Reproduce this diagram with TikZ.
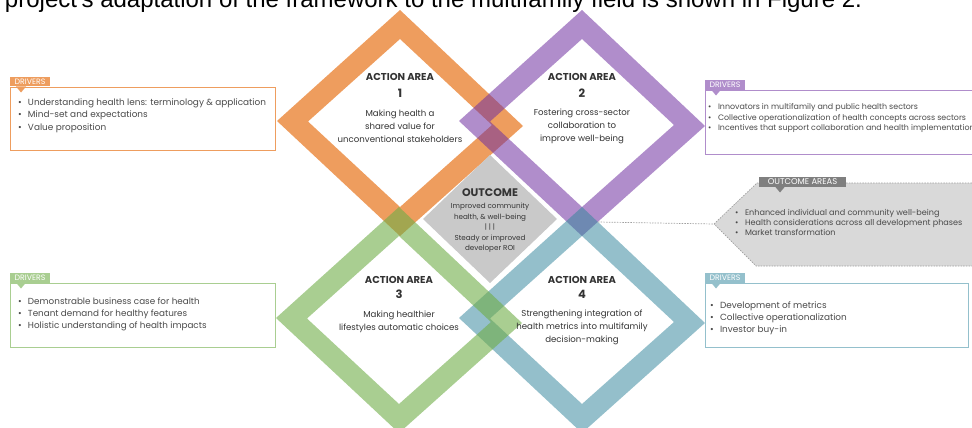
\documentclass[tikz,border=0pt]{standalone}
\usepackage{fontspec}
\setmainfont{Poppins}
\newfontfamily\captionfont{Liberation Sans}
\definecolor{hlorange}{HTML}{EE9D5E}
\definecolor{hlpurple}{HTML}{7030A0}
\definecolor{hlblue}{HTML}{31859C}
\definecolor{hlgreen}{HTML}{70AD47}
% the same colours as they show on white
\colorlet{lpurple}{hlpurple!55!white}
\colorlet{lblue}{hlblue!52!white}
\colorlet{lgreen}{hlgreen!60!white}
\definecolor{outgray}{HTML}{C9C9C9}
\definecolor{areagray}{HTML}{D9D9D9}
\definecolor{linegray}{HTML}{A0A0A0}
\definecolor{tabgray}{HTML}{7F7F7F}
\definecolor{txtgray}{HTML}{333333}
\definecolor{bulgray}{HTML}{4A4A4A}

% one action area band: centre x, centre y, colour, opacity
\newcommand{\actionband}[4]{%
  \fill[#3,fill opacity=#4,even odd rule]
    (#1,#2-113) -- (#1+123,#2+3) -- (#1,#2+113) -- (#1-123,#2-2) -- cycle
    (#1,#2-84) -- (#1+92,#2+2) -- (#1,#2+84) -- (#1-92,#2-1.5) -- cycle;}
\newcommand{\bl}{\makebox[10pt][l]{\textbullet}}

\begin{document}
\begin{tikzpicture}[x=1pt,y=-1pt,inner sep=0pt,outer sep=0pt,
  areatitle/.style={text=txtgray,font=\bfseries\fontsize{10}{11}\selectfont},
  areanum/.style={text=txtgray,font=\bfseries\fontsize{11.5}{12}\selectfont},
  areatext/.style={align=center,text=txtgray,font=\fontsize{8.6}{13}\selectfont},
  drvbox/.style={draw,rectangle,line width=0.8pt,fill=white,anchor=north west},
  drvtab/.style={rectangle,anchor=north west,minimum width=40pt,minimum height=9.5pt,
    text=white,font=\fontsize{7.8}{8}\selectfont},
  bullets/.style={align=left,anchor=west,text=bulgray,font=\fontsize{8.9}{12.5}\selectfont}]
\useasboundingbox (0,0) rectangle (972,428);

% running text above the figure
\node[anchor=base west,font=\captionfont\fontsize{24}{24}\selectfont] (caption) at (5,7.5)
  {project's adaptation of the framework to the multifamily field is shown in Figure 2.};

% four action areas
\actionband{400}{123}{hlorange}{1}
\actionband{582}{123}{hlpurple}{0.55}
\actionband{582}{320}{hlblue}{0.52}
\actionband{399}{320}{hlgreen}{0.6}

% outcome in the middle
\fill[outgray] (490,155) -- (557,219) -- (490,283) -- (423,219) -- cycle;
\node[areatitle,font=\bfseries\fontsize{11}{11}\selectfont] (outtitle) at (490,193) {OUTCOME};
\node[areatext,font=\fontsize{7.2}{10.5}\selectfont] (outcome) at (490,228)
  {Improved community\\health, \& well-being\\| | |\\Steady or improved\\developer ROI};

\node[areatitle] (t1) at (400,77) {ACTION AREA};
\node[areanum] (n1) at (400,93) {1};
\node[areatext] (a1) at (400,126) {Making health a\\shared value for\\unconventional stakeholders};
\node[areatitle] (t2) at (582,77) {ACTION AREA};
\node[areanum] (n2) at (582,93) {2};
\node[areatext] (a2) at (582,126) {Fostering cross-sector\\collaboration to\\improve well-being};
\node[areatitle] (t3) at (399,280) {ACTION AREA};
\node[areanum] (n3) at (399,294) {3};
\node[areatext] (a3) at (399,321.5) {Making healthier\\lifestyles automatic choices};
\node[areatitle] (t4) at (582,280) {ACTION AREA};
\node[areanum] (n4) at (582,294) {4};
\node[areatext] (a4) at (582,327) {Strengthening integration of\\health metrics into multifamily\\decision-making};

% drivers, left side
\node[drvbox,draw=hlorange,minimum width=265pt,minimum height=63pt] (box1) at (10,87) {};
\node[drvtab,fill=hlorange] (tab1) at (10,77) {DRIVERS};
\fill[hlorange] ([xshift=6pt]tab1.south west) -- ++(10,0) -- ++(-5,6) -- cycle;
\node[bullets] (d1) at (18,115.5) {\bl Understanding health lens: terminology \& application\\
  \bl Mind-set and expectations\\\bl Value proposition};

\node[drvbox,draw=lgreen,minimum width=265pt,minimum height=64pt] (box3) at (10,283) {};
\node[drvtab,fill=lgreen] (tab3) at (10,273) {DRIVERS};
\fill[lgreen] ([xshift=6pt]tab3.south west) -- ++(10,0) -- ++(-5,6) -- cycle;
\node[bullets,font=\fontsize{8.8}{12}\selectfont] (d3) at (18,314)
  {\bl Demonstrable business case for health\\
  \bl Tenant demand for healthy features\\\bl Holistic understanding of health impacts};

% drivers, right side
\node[drvbox,draw=lpurple,minimum width=280pt,minimum height=64pt] (box2) at (705,90) {};
\node[drvtab,fill=lpurple] (tab2) at (705,80) {DRIVERS};
\fill[lpurple] ([xshift=6pt]tab2.south west) -- ++(10,0) -- ++(-5,6) -- cycle;
\node[bullets,font=\fontsize{7.9}{10.5}\selectfont] (d2) at (708,118.5)
  {\bl Innovators in multifamily and public health sectors\\
  \bl Collective operationalization of health concepts across sectors\\
  \bl Incentives that support collaboration and health implementation};

\node[drvbox,draw=lblue,minimum width=263pt,minimum height=64pt] (box4) at (705,283) {};
\node[drvtab,fill=lblue] (tab4) at (705,273) {DRIVERS};
\fill[lblue] ([xshift=6pt]tab4.south west) -- ++(10,0) -- ++(-5,6) -- cycle;
\node[bullets,font=\fontsize{8.9}{11.8}\selectfont] (d4) at (710,318)
  {\bl Development of metrics\\\bl Collective operationalization\\\bl Investor buy-in};

% outcome areas
\coordinate (areatip) at (714,224);
\coordinate (link) at (598,222);
\draw[linegray,line width=0.7pt,dash pattern=on 1.5pt off 1.2pt,fill=areagray]
  (areatip) -- (757,183) -- (980,183) -- (980,266) -- (756,266) -- cycle;
\draw[linegray,line width=0.7pt,dash pattern=on 1.5pt off 1.2pt] (link) -- (areatip);
\node[rectangle,fill=tabgray,anchor=north west,minimum width=87pt,minimum height=10pt,
  text=white,font=\fontsize{8.4}{9}\selectfont] (tab5) at (759,176.5) {OUTCOME AREAS};
\fill[tabgray] ([xshift=16pt]tab5.south west) -- ++(10,0) -- ++(-5,6) -- cycle;
\node[bullets,font=\fontsize{8.1}{10}\selectfont] (d5) at (735,222.7)
  {\bl Enhanced individual and community well-being\\
  \bl Health considerations across all development phases\\\bl Market transformation};
\end{tikzpicture}
\end{document}
